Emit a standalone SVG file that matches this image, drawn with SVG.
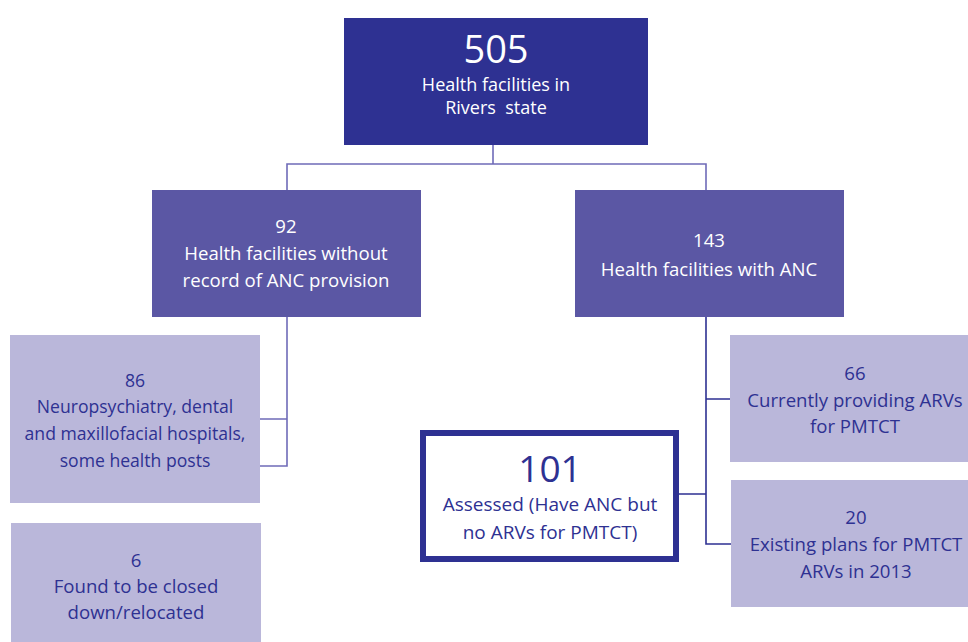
<svg xmlns="http://www.w3.org/2000/svg" width="968" height="642" viewBox="0 0 968 642">
<style>
text{font-family:"Open Sans","Noto Sans","Liberation Sans",sans-serif;text-anchor:middle}
.w{fill:#ffffff;font-size:18.6px}
.d{fill:#2e3192;font-size:18.6px}
.dark{fill:#2e3192}
.mid{fill:#5b57a4}
.light{fill:#bab7da}
.conn{fill:none;stroke-width:1.6}
</style>
<rect width="968" height="642" fill="#ffffff"/>
<g id="connectors">
<path class="conn" stroke="#6f6bb8" d="M493 145V164M287 190V164H706V190"/>
<path class="conn" stroke="#6f6bb8" d="M287 317V466H260M287 419H260"/>
<path class="conn" stroke="#2e3192" d="M706 317V544H731M706 399H730M706 494H679"/>
</g>
<g id="n505">
<rect class="dark" x="344" y="18" width="304" height="127"/>
<text class="w" x="496" y="63" style="font-size:38px">505</text>
<text class="w" x="496" y="91" style="font-size:18px">Health facilities in</text>
<text class="w" x="496" y="114" style="font-size:18px" xml:space="preserve">Rivers  state</text>
</g>
<g id="n92">
<rect class="mid" x="152" y="190" width="269" height="127"/>
<text class="w" x="286" y="233">92</text>
<text class="w" x="286" y="260">Health facilities without</text>
<text class="w" x="286" y="287">record of ANC provision</text>
</g>
<g id="n143">
<rect class="mid" x="575" y="190" width="269" height="127"/>
<text class="w" x="709" y="247">143</text>
<text class="w" x="709" y="276">Health facilities with ANC</text>
</g>
<g id="n86">
<rect class="light" x="10" y="335" width="250" height="168"/>
<text class="d" x="135" y="387" style="font-size:17.6px">86</text>
<text class="d" x="135" y="413" style="font-size:17.6px">Neuropsychiatry, dental</text>
<text class="d" x="135" y="440" style="font-size:17.6px">and maxillofacial hospitals,</text>
<text class="d" x="135" y="467" style="font-size:17.6px">some health posts</text>
</g>
<g id="n6">
<rect class="light" x="11" y="523" width="250" height="119"/>
<text class="d" x="136" y="567">6</text>
<text class="d" x="136" y="593">Found to be closed</text>
<text class="d" x="136" y="619">down/relocated</text>
</g>
<g id="n101">
<rect x="423" y="433" width="253" height="126" fill="#ffffff" stroke="#2e3192" stroke-width="6"/>
<text class="d" x="550" y="482" style="font-size:37px">101</text>
<text class="d" x="550" y="511" style="font-size:19px">Assessed (Have ANC but</text>
<text class="d" x="550" y="539" style="font-size:19px">no ARVs for PMTCT)</text>
</g>
<g id="n66">
<rect class="light" x="730" y="335" width="240" height="127"/>
<text class="d" x="855" y="380">66</text>
<text class="d" x="855" y="407">Currently providing ARVs</text>
<text class="d" x="855" y="433">for PMTCT</text>
</g>
<g id="n20">
<rect class="light" x="731" y="480" width="240" height="127"/>
<text class="d" x="856" y="524">20</text>
<text class="d" x="856" y="551">Existing plans for PMTCT</text>
<text class="d" x="856" y="578">ARVs in 2013</text>
</g>
</svg>
